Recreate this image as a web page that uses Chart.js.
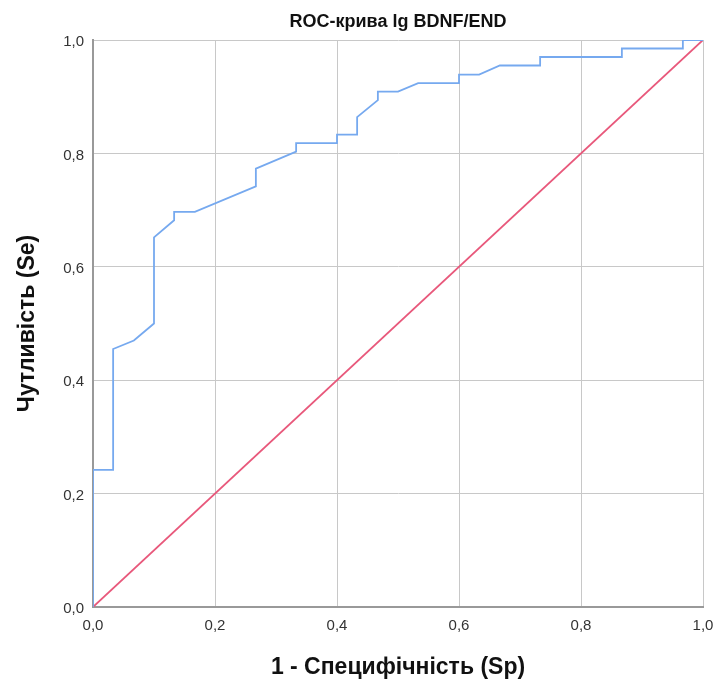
<!DOCTYPE html>
<html>
<head>
<meta charset="utf-8">
<script src="https://cdn.jsdelivr.net/npm/chart.js@4/dist/chart.umd.min.js"></script>
<style>
  html, body { margin: 0; padding: 0; background: #fff; }
  #wrap { width: 715px; height: 683px; }
</style>
</head>
<body>
<div id="wrap"><canvas id="roc" width="715" height="683"></canvas></div>
<script>
// ROC curve points (1 - Sp, Se)
const fpr = [0, 0, 0.033, 0.033, 0.067, 0.1, 0.1, 0.133, 0.133, 0.167,
             0.267, 0.267, 0.333, 0.333, 0.4, 0.4, 0.433, 0.433, 0.467, 0.467,
             0.5, 0.533, 0.6, 0.6, 0.633, 0.667, 0.733, 0.733, 0.867, 0.867,
             0.967, 0.967, 1.0];
const tpr = [0, 0.242, 0.242, 0.455, 0.470, 0.5, 0.652, 0.682, 0.697, 0.697,
             0.742, 0.773, 0.803, 0.818, 0.818, 0.833, 0.833, 0.864, 0.894, 0.909,
             0.909, 0.924, 0.924, 0.939, 0.939, 0.955, 0.955, 0.970, 0.970, 0.985,
             0.985, 1.0, 1.0];
// reference diagonal
const refX = [0, 1];
const refY = [0, 1];
const tickValues = [0, 0.2, 0.4, 0.6, 0.8, 1.0];
const chartTitle = 'ROC-крива lg BDNF/END';

const FONT = "'Liberation Sans', Arial, sans-serif";
const fmt = v => v.toFixed(1).replace('.', ',');

const rocPoints = fpr.map((x, i) => ({ x: x, y: tpr[i] }));
const refPoints = refX.map((x, i) => ({ x: x, y: refY[i] }));

// title centred over the plot area, like the original
const plotTitle = {
    id: 'plotTitle',
    afterDraw(chart) {
        const { ctx, chartArea } = chart;
        ctx.save();
        ctx.font = 'bold 18px ' + FONT;
        ctx.fillStyle = '#111';
        ctx.textAlign = 'center';
        ctx.textBaseline = 'middle';
        ctx.fillText(chartTitle, (chartArea.left + chartArea.right) / 2, 22);
        ctx.restore();
    }
};

new Chart(document.getElementById('roc').getContext('2d'), {
    type: 'scatter',
    data: {
        datasets: [
            {
                label: 'ROC',
                data: rocPoints,
                showLine: true,
                borderColor: '#76a9ef',
                borderWidth: 1.8,
                pointRadius: 0,
                tension: 0,
                order: 1
            },
            {
                label: 'Reference',
                data: refPoints,
                showLine: true,
                borderColor: '#e8587b',
                borderWidth: 1.8,
                pointRadius: 0,
                tension: 0,
                order: 2
            }
        ]
    },
    options: {
        responsive: false,
        animation: false,
        layout: { padding: { top: 40, left: 0, right: 0, bottom: 0 } },
        plugins: {
            legend: { display: false },
            tooltip: { enabled: false },
            title: { display: false }
        },
        scales: {
            x: {
                type: 'linear',
                min: 0,
                max: 1,
                afterBuildTicks: s => { s.ticks = tickValues.map(v => ({ value: v })); },
                afterFit: s => { s.height = 76; s.paddingLeft = 0; s.paddingRight = 12; },
                ticks: {
                    color: '#333',
                    font: { family: FONT, size: 15 },
                    padding: 10,
                    maxRotation: 0,
                    callback: v => fmt(v)
                },
                grid: { color: '#c8c8c8', lineWidth: 1, drawTicks: false },
                border: { color: '#999', width: 2 },
                title: {
                    display: true,
                    text: '1 - Специфічність (Sp)',
                    color: '#111',
                    font: { family: FONT, size: 23, weight: 'bold' },
                    padding: { top: 0, bottom: 2 }
                }
            },
            y: {
                type: 'linear',
                min: 0,
                max: 1,
                afterBuildTicks: s => { s.ticks = tickValues.map(v => ({ value: v })); },
                afterFit: s => { s.width = 93; },
                ticks: {
                    color: '#333',
                    font: { family: FONT, size: 15 },
                    padding: 9,
                    labelOffset: 2,
                    callback: v => fmt(v)
                },
                grid: { color: '#c8c8c8', lineWidth: 1, drawTicks: false },
                border: { color: '#999', width: 2 },
                title: {
                    display: true,
                    text: 'Чутливість (Se)',
                    color: '#111',
                    font: { family: FONT, size: 23, weight: 'bold' },
                    padding: { top: 14, bottom: 0 }
                }
            }
        }
    },
    plugins: [plotTitle]
});
</script>
</body>
</html>
